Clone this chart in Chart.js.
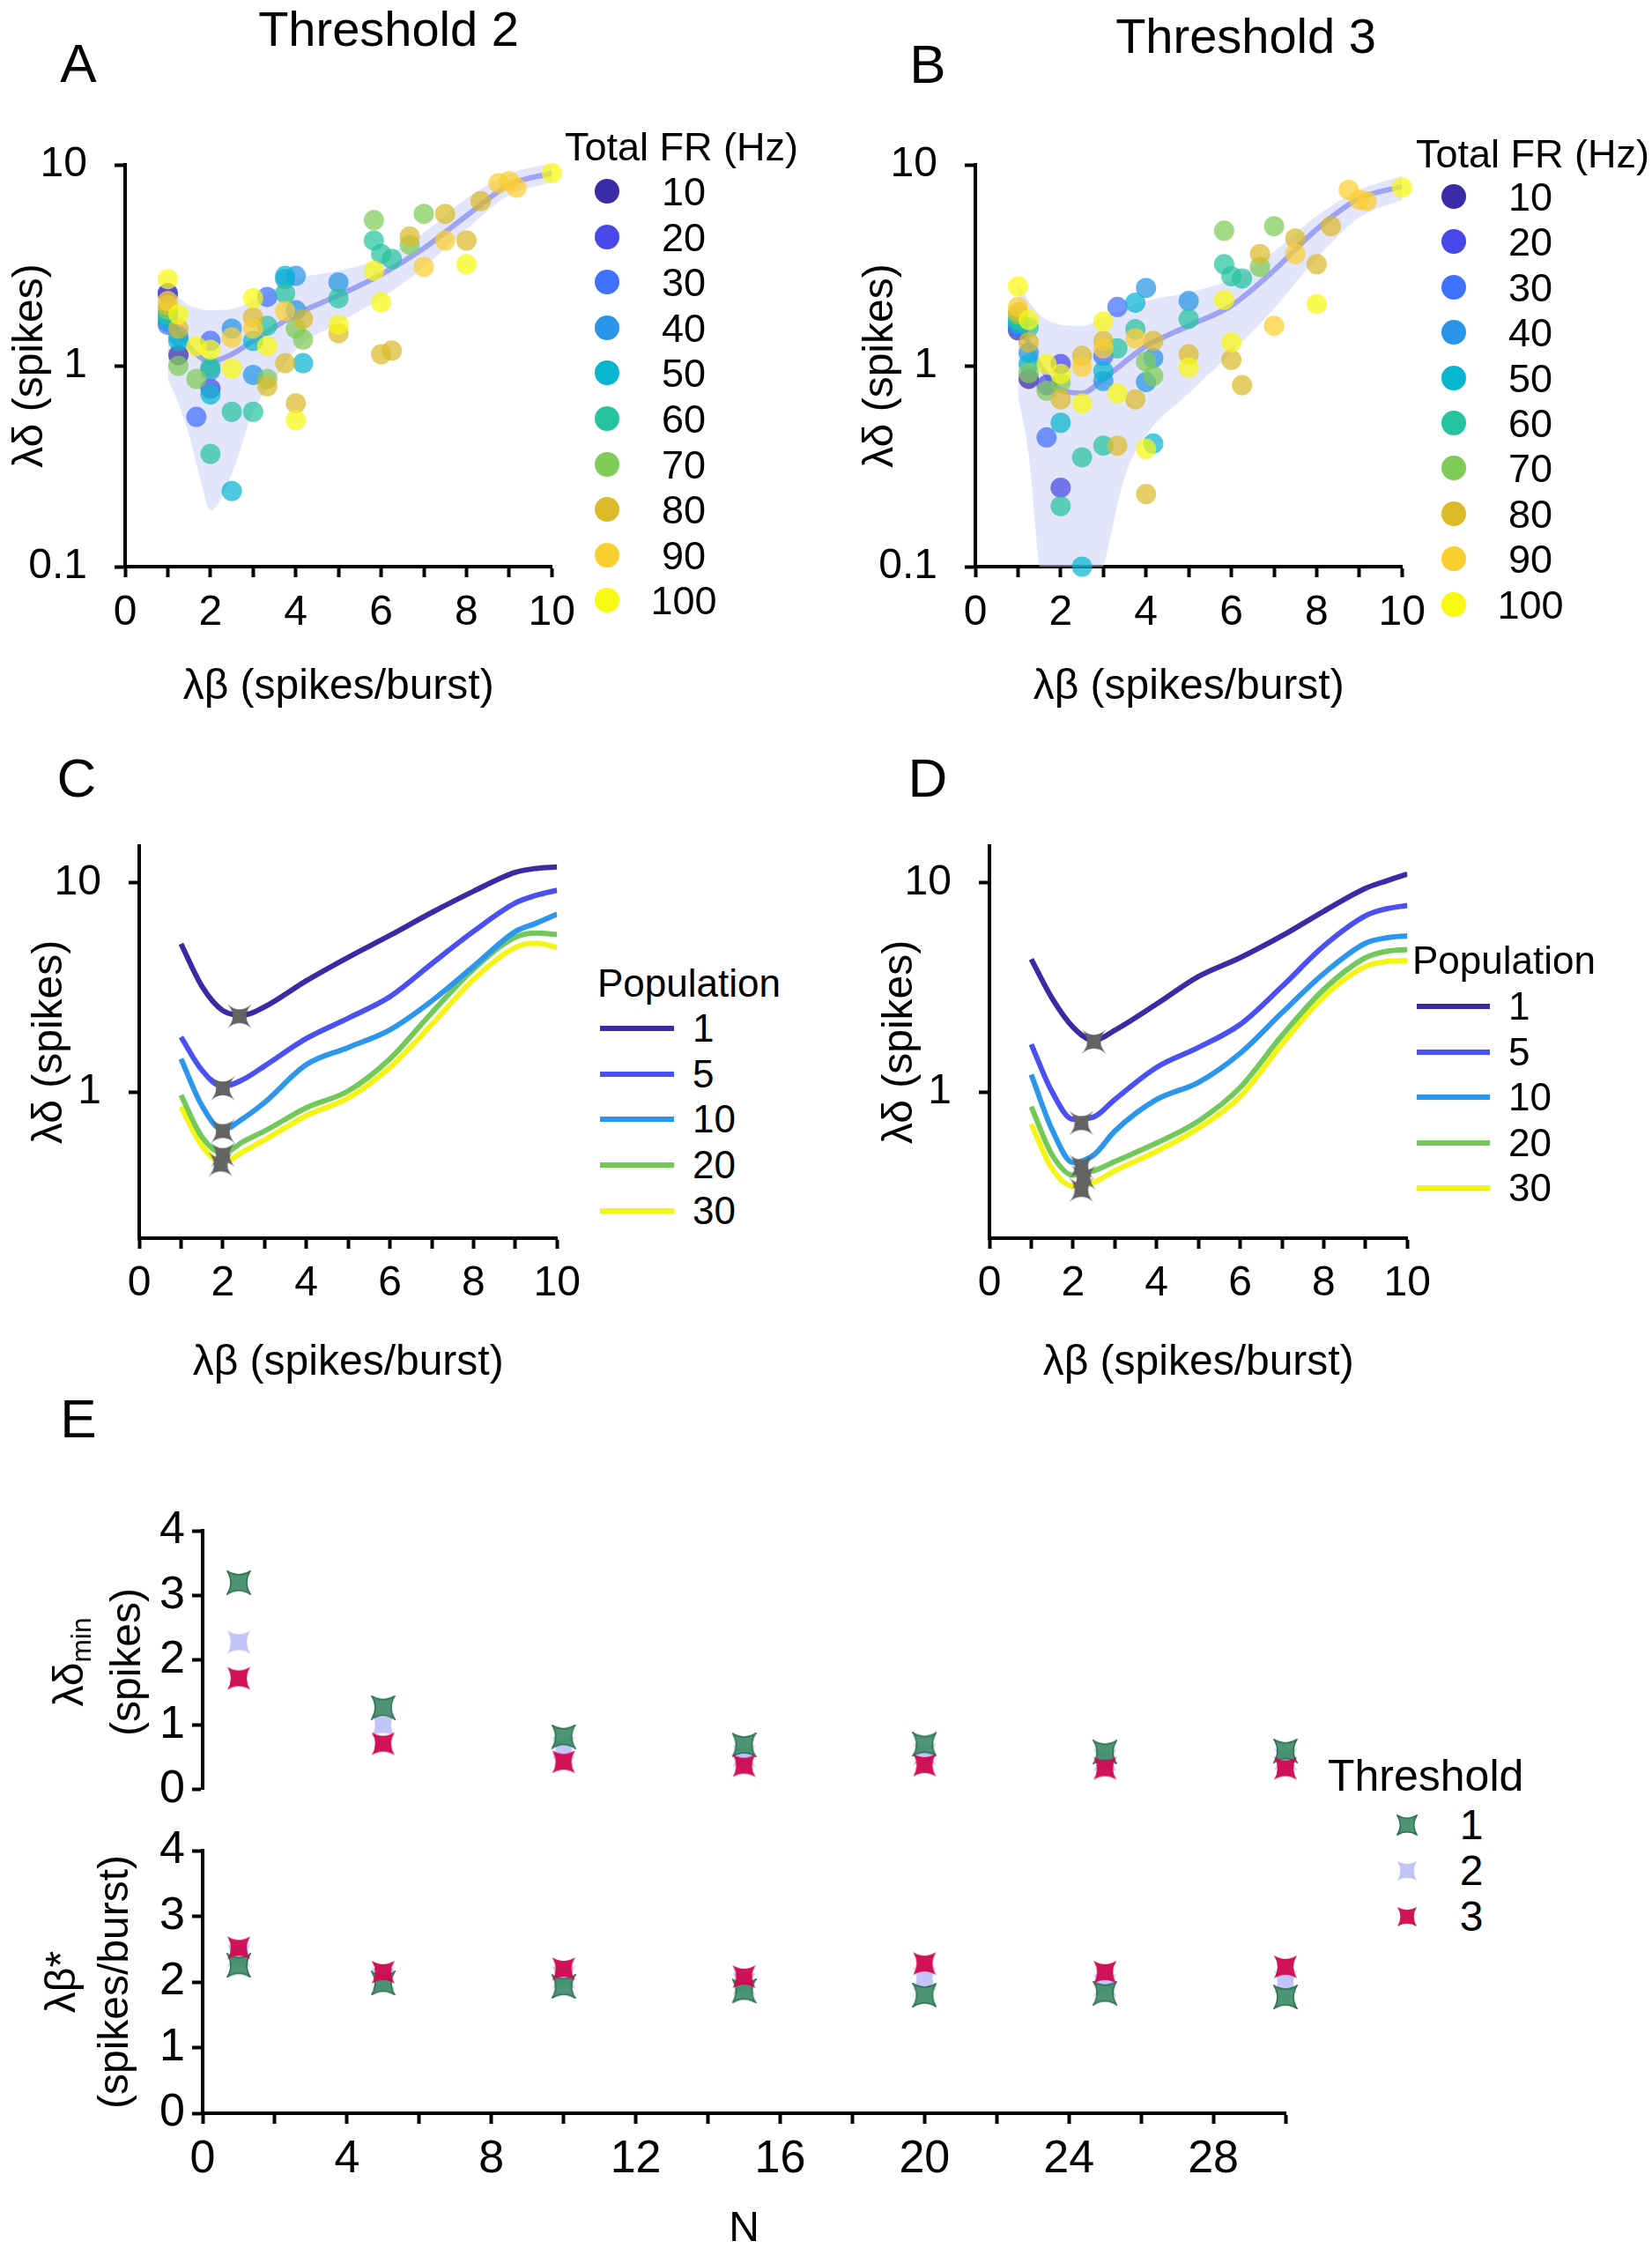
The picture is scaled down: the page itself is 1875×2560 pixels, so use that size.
<!DOCTYPE html>
<html>
<head>
<meta charset="utf-8">
<script src="https://cdn.jsdelivr.net/npm/chart.js@4.4.1/dist/chart.umd.min.js"></script>
<style>
  body { margin: 0; background: #fff; width: 1875px; height: 2560px; position: relative; overflow: hidden;
         font-family: 'Liberation Sans', Arial, Helvetica, sans-serif; color: #000; }
  canvas { position: absolute; }
  .t { position: absolute; white-space: nowrap; line-height: 1; }
  .t sub { font-size: 0.66em; vertical-align: -0.28em; line-height: 0; }
</style>
</head>
<body>
<canvas id="cA"></canvas>
<canvas id="cB"></canvas>
<canvas id="cC"></canvas>
<canvas id="cD"></canvas>
<canvas id="cE1"></canvas>
<canvas id="cE2"></canvas>
<script>
// ---------- data ----------
// total firing rate groups (panels A, B)
const frLevels = ['10', '20', '30', '40', '50', '60', '70', '80', '90', '100'];
const frColors = ['#3b2ba8', '#4848e8', '#4070ff', '#2895e8', '#08b5d0', '#25c4a0', '#80cc58', '#dbbb2a', '#fccf30', '#f8f810'];

// panel A (threshold 2): [lambda beta, lambda delta] per group
const a10 = [[1, 2.28], [1.25, 1.13]];
const a20 = [[1, 2.3], [2, 0.77]];
const a30 = [[1, 1.6], [1.67, 0.556], [2, 1.33], [3.33, 2.2]];
const a40 = [[1, 1.65], [1.25, 1.4], [2, 0.95], [2.5, 1.53], [3, 0.9], [3.75, 2.7], [4, 2.8], [4, 1.89], [5, 2.6]];
const a50 = [[1, 1.75], [1.25, 1.33], [2, 0.72], [2.5, 0.238], [3, 1.33], [3.75, 2.8], [4.17, 1.03]];
const a60 = [[1, 1.8], [2, 0.98], [2, 0.364], [2.5, 0.59], [3, 0.59], [3.33, 1.58], [3.75, 2.29], [5, 2.17], [5.83, 4.2], [6, 3.6], [6.25, 3.4]];
const a70 = [[1, 1.9], [1.25, 1.0], [1.67, 0.86], [3.33, 0.86], [4, 1.53], [4.17, 1.35], [5.83, 5.3], [6.67, 4.0], [7, 5.7]];
const a80 = [[1, 2.0], [1.25, 1.53], [3, 1.74], [3.33, 0.79], [3.75, 1.03], [4.17, 1.71], [4, 0.65], [5, 1.45], [6, 1.14], [6.25, 1.19], [6.67, 4.4], [7.5, 5.7], [8, 4.2], [8.33, 6.6]];
const a90 = [[1, 2.1], [2.5, 1.38], [3, 1.53], [3.75, 1.87], [7, 3.1], [7.5, 4.2], [8.75, 8.1], [9, 8.3], [9.17, 7.7]];
const a100 = [[1, 2.7], [1.25, 1.8], [1.67, 1.25], [2, 1.2], [2.5, 0.97], [3, 2.17], [3.33, 1.25], [4, 0.535], [5, 1.6], [5.83, 2.97], [6, 2.07], [8, 3.2], [10, 9.1]];

// panel B (threshold 3)
const b10 = [[1, 1.5], [1.25, 0.86]];
const b20 = [[1.67, 0.8], [2, 1.02], [2, 0.247]];
const b30 = [[1, 1.55], [1.67, 0.44], [3, 1.12], [3.33, 1.96]];
const b40 = [[1, 1.6], [1.25, 1.16], [3, 0.84], [4, 2.44], [4.17, 1.09], [4, 0.83], [5, 2.1]];
const b50 = [[1, 1.65], [1.25, 1.02], [2, 0.52], [2.5, 0.1], [3, 0.94], [3.75, 2.06], [4.17, 0.41]];
const b60 = [[1, 1.7], [1.25, 1.55], [2, 0.2], [2.5, 0.35], [3, 0.4], [3.33, 1.22], [3.75, 1.52], [5, 1.71], [5.83, 3.2], [6, 2.79], [6.25, 2.72]];
const b70 = [[1, 1.8], [1.25, 0.92], [1.67, 0.75], [2, 0.82], [4, 1.05], [4.17, 0.89], [5.83, 4.7], [6.67, 3.1], [7, 4.95]];
const b80 = [[1, 1.85], [1.25, 1.31], [2, 0.68], [2.5, 1.12], [3, 1.33], [3.33, 0.4], [3.75, 0.68], [4.17, 1.33], [4, 0.23], [5, 1.14], [6, 1.07], [6.25, 0.8], [6.67, 3.6], [7.5, 4.3], [8, 3.2], [8.33, 4.95]];
const b90 = [[1, 1.96], [2.5, 0.99], [3, 1.22], [3.75, 1.37], [7, 1.58], [7.5, 3.6], [8.75, 7.5], [9, 6.7], [9.17, 6.6]];
const b100 = [[1, 2.48], [1.25, 1.69], [1.67, 1.02], [2, 0.91], [2.5, 0.65], [3, 1.66], [3.33, 0.73], [4, 0.386], [5, 0.98], [5.83, 2.13], [6, 1.31], [8, 2.03], [10, 7.7]];

// fitted curve and confidence band
const fitX = [1, 1.5, 2, 2.5, 3, 4, 5, 6, 7, 8, 9, 10];
const aFit = [1.8, 1.25, 1.05, 1.14, 1.33, 1.8, 2.24, 2.84, 3.84, 5.57, 7.94, 9.1];
const bFit = [1.66, 1.02, 0.76, 0.73, 0.86, 1.25, 1.58, 1.99, 2.98, 4.78, 6.8, 7.8];
const bandX = [1, 1.25, 1.5, 1.75, 2, 2.5, 3, 3.5, 4, 5, 6, 7, 8, 9, 10];
const aUpper = [2.6, 2.2, 2.0, 1.92, 1.89, 1.92, 2.1, 2.4, 2.7, 2.97, 3.42, 4.6, 6.8, 9.0, 10.2];
const aLower = [0.86, 0.65, 0.45, 0.28, 0.19, 0.29, 0.59, 0.85, 1.2, 1.63, 2.17, 3.09, 4.78, 7.05, 8.2];
const bUpper = [2.6, 2.1, 1.8, 1.66, 1.6, 1.58, 1.74, 1.92, 2.1, 2.32, 2.7, 3.7, 5.57, 7.5, 8.8];
const bLower = [0.7, 0.36, 0.1, 0.06, 0.05, 0.05, 0.1, 0.28, 0.45, 0.73, 1.16, 1.93, 3.42, 5.47, 6.7];

// panels C, D: population curves
const popLevels = ['1', '5', '10', '20', '30'];
const popColors = ['#3c2aa5', '#4a50f2', '#2c95ec', '#72c95a', '#f5f515'];
const curveX = [1, 1.5, 2, 2.5, 3, 4, 5, 6, 7, 8, 9, 9.5, 10];
const c1 = [5.1, 3.2, 2.45, 2.33, 2.55, 3.4, 4.4, 5.6, 7.2, 9.1, 11.2, 11.7, 11.9];
const c5 = [1.83, 1.27, 1.06, 1.15, 1.33, 1.8, 2.25, 2.85, 4.1, 5.85, 8.0, 8.7, 9.2];
const c10 = [1.44, 0.86, 0.66, 0.75, 0.89, 1.35, 1.63, 1.98, 2.72, 3.98, 5.84, 6.4, 7.07];
const c20 = [0.965, 0.61, 0.51, 0.58, 0.65, 0.84, 1.01, 1.44, 2.39, 3.86, 5.48, 5.75, 5.65];
const c30 = [0.85, 0.553, 0.46, 0.52, 0.59, 0.77, 0.935, 1.31, 2.1, 3.45, 4.9, 5.14, 4.9];
const cMinX = [2.4, 2.0, 2.0, 2.0, 1.95];
const cMinY = [2.3, 1.04, 0.65, 0.5, 0.45];
const d1 = [4.31, 2.8, 2.04, 1.76, 1.97, 2.63, 3.56, 4.38, 5.57, 7.3, 9.4, 10.2, 11.0];
const d5 = [1.69, 1.0, 0.74, 0.76, 0.92, 1.31, 1.63, 2.1, 3.19, 4.98, 6.95, 7.5, 7.78];
const d10 = [1.21, 0.66, 0.46, 0.5, 0.65, 0.92, 1.11, 1.53, 2.39, 3.68, 5.14, 5.45, 5.57];
const d20 = [0.85, 0.5, 0.4, 0.42, 0.465, 0.57, 0.725, 1.05, 1.86, 3.09, 4.38, 4.7, 4.79];
const d30 = [0.7, 0.43, 0.355, 0.37, 0.42, 0.52, 0.67, 0.95, 1.69, 2.85, 3.98, 4.2, 4.24];
const dMinX = [2.5, 2.2, 2.2, 2.25, 2.2];
const dMinY = [1.74, 0.71, 0.44, 0.39, 0.34];

// panel E: minimum lambda delta and optimal lambda beta versus population size
const nPop = [1, 5, 10, 15, 20, 25, 30];
const thrLevels = ['1', '2', '3'];
const dMin1 = [3.2, 1.27, 0.82, 0.69, 0.7, 0.58, 0.6];
const dMin2 = [2.28, 1.0, 0.65, 0.52, 0.55, 0.46, 0.47];
const dMin3 = [1.72, 0.71, 0.43, 0.37, 0.38, 0.33, 0.33];
const bOpt1 = [2.25, 1.98, 1.93, 1.86, 1.8, 1.83, 1.77];
const bOpt2 = [2.4, 2.05, 2.07, 1.97, 2.05, 1.95, 2.0];
const bOpt3 = [2.52, 2.15, 2.2, 2.08, 2.28, 2.15, 2.23];

// ---------- helpers ----------
const FONT = "'Liberation Sans', Arial, Helvetica, sans-serif";
Chart.defaults.font.family = FONT;
Chart.defaults.color = '#000';

const pairs = arr => arr.map(([x, y]) => ({ x, y }));
const zipXY = (xs, ys) => xs.map((x, i) => ({ x, y: ys[i] }));
function rgba(hex, a) {
  const n = parseInt(hex.slice(1), 16);
  return `rgba(${n >> 16},${(n >> 8) & 255},${n & 255},${a})`;
}

// four-pointed concave star used as marker
function starCanvas(size, fill, stroke, pinch) {
  const c = document.createElement('canvas');
  c.width = c.height = size;
  const g = c.getContext('2d');
  const m = size / 2, s = size / 2 - 1, k = s * pinch;
  g.beginPath();
  g.moveTo(m - s, m - s);
  g.quadraticCurveTo(m, m - k, m + s, m - s);
  g.quadraticCurveTo(m + k, m, m + s, m + s);
  g.quadraticCurveTo(m, m + k, m - s, m + s);
  g.quadraticCurveTo(m - k, m, m - s, m - s);
  g.closePath();
  g.fillStyle = fill;
  g.fill();
  if (stroke) { g.strokeStyle = stroke; g.lineWidth = 1.5; g.stroke(); }
  return c;
}
const thrFill = ['rgba(62,140,104,0.92)', 'rgba(192,194,248,0.95)', 'rgba(208,8,80,0.96)'];
const thrStroke = ['#2d7050', null, null];
const thrStars = thrFill.map((f, i) => starCanvas(28, f, thrStroke[i], 0.4));
const grayStar = starCanvas(30, '#636363', null, 0.1);

const GRID = { drawOnChartArea: false, drawTicks: true, tickLength: 12, tickWidth: 4, tickColor: '#000' };
const BORDER = { display: true, color: '#000', width: 4 };

function linearAxis(min, max, step, every, size, pad, title, titlePad) {
  return {
    type: 'linear', min, max,
    grid: { ...GRID }, border: { ...BORDER },
    ticks: { stepSize: step, autoSkip: false, maxRotation: 0, padding: pad, color: '#000', font: { size },
             callback: v => (Math.abs(v % every) < 1e-9 ? String(v) : '') },
    title: title ? { display: true, text: title, color: '#000', font: { size: 48, lineHeight: 1.25 }, padding: titlePad }
                 : { display: false }
  };
}
function logAxis(min, max, values, title, titlePad) {
  return {
    type: 'logarithmic', min, max,
    grid: { ...GRID }, border: { ...BORDER },
    afterBuildTicks: s => { s.ticks = values.map(v => ({ value: v })); },
    ticks: { autoSkip: false, padding: 31, color: '#000', font: { size: 48 }, callback: v => String(v) },
    title: { display: true, text: title, color: '#000', font: { size: 48 }, padding: titlePad }
  };
}

// rect = canvas [left, top, width, height]; area = plot area [left, top, right, bottom]
function build(id, rect, area, datasets, xAxis, yAxis) {
  const [cl, ct, cw, ch] = rect, [L, T, R, B] = area;
  const cv = document.getElementById(id);
  cv.width = cw; cv.height = ch;
  cv.style.left = cl + 'px'; cv.style.top = ct + 'px';
  const below = ct + ch - B;
  const xOn = xAxis.display !== false;
  yAxis.afterFit = s => { s.width = L - cl; };
  if (xOn) xAxis.afterFit = s => { s.height = below; };
  return new Chart(cv, {
    type: 'scatter',
    data: { datasets },
    options: {
      responsive: false, animation: false, devicePixelRatio: 1, events: [],
      layout: { padding: { left: 0, top: T - ct, right: cl + cw - R, bottom: xOn ? 0 : below } },
      plugins: { legend: { display: false }, tooltip: { enabled: false } },
      scales: { x: xAxis, y: yAxis }
    }
  });
}

function put(html, x, y, size, align) {
  const d = document.createElement('div');
  d.className = 't';
  d.innerHTML = html;
  d.style.left = x + 'px';
  d.style.top = y + 'px';
  d.style.fontSize = size + 'px';
  d.style.transform = align === 'left' ? 'translateY(-50%)' : 'translate(-50%,-50%)';
  document.body.appendChild(d);
  return d;
}
function shape(x, y, w, h, css) {
  const d = document.createElement('div');
  d.style.cssText = `position:absolute;left:${x}px;top:${y}px;width:${w}px;height:${h}px;` + css;
  document.body.appendChild(d);
}

// ---------- panels A, B ----------
function frPanel(id, rect, area, groups, fit, upper, lower) {
  const ds = groups.map((g, i) => ({
    data: pairs(g), backgroundColor: rgba(frColors[i], 0.72), borderWidth: 0,
    pointRadius: 11.5, clip: false, order: 10 - i
  }));
  ds.push({ type: 'line', data: zipXY(fitX, fit), borderColor: '#9ea3f3', borderWidth: 6, pointRadius: 0,
            cubicInterpolationMode: 'monotone', fill: false, order: 11 });
  ds.push({ type: 'line', data: zipXY(bandX, upper), borderWidth: 0, borderColor: 'rgba(0,0,0,0)', pointRadius: 0,
            cubicInterpolationMode: 'monotone', fill: '+1', backgroundColor: 'rgba(200,205,245,0.5)', order: 12 });
  ds.push({ type: 'line', data: zipXY(bandX, lower), borderWidth: 0, borderColor: 'rgba(0,0,0,0)', pointRadius: 0,
            cubicInterpolationMode: 'monotone', fill: false, order: 13 });
  build(id, rect, area, ds,
        linearAxis(0, 10, 1, 2, 48, 12, 'λβ (spikes/burst)', { top: 0, bottom: 20 }),
        logAxis(0.1, 10, [0.1, 1, 10], 'λδ (spikes)', { top: 6, bottom: 0 }));
}
frPanel('cA', [0, 100, 665, 730], [142, 187, 632, 643],
        [a10, a20, a30, a40, a50, a60, a70, a80, a90, a100], aFit, aUpper, aLower);
frPanel('cB', [965, 100, 665, 730], [1107, 187, 1597, 643],
        [b10, b20, b30, b40, b50, b60, b70, b80, b90, b100], bFit, bUpper, bLower);

// ---------- panels C, D ----------
function popPanel(id, rect, area, curves, minX, minY) {
  const ds = curves.map((c, i) => ({
    type: 'line', data: zipXY(curveX, c), borderColor: popColors[i], borderWidth: 6, pointRadius: 0,
    cubicInterpolationMode: 'monotone', fill: false, order: 1 + i
  }));
  ds.push({ data: zipXY(minX, minY), pointStyle: grayStar, pointRadius: 15, clip: false, order: 0 });
  build(id, rect, area, ds,
        linearAxis(0, 10, 1, 2, 48, 11, 'λβ (spikes/burst)', { top: 0, bottom: 23 }),
        logAxis(0.2, 15, [1, 10], 'λδ (spikes)', { top: 28, bottom: 0 }));
}
popPanel('cC', [0, 900, 670, 700], [158, 955, 637, 1405], [c1, c5, c10, c20, c30], cMinX, cMinY);
popPanel('cD', [965, 900, 670, 700], [1123, 955, 1602, 1405], [d1, d5, d10, d20, d30], dMinX, dMinY);

// ---------- panel E ----------
function thrSets(series) {
  return series.map((s, i) => ({
    data: zipXY(nPop, s), pointStyle: thrStars[i], pointRadius: 14, clip: false, order: [2, 3, 1][i]
  }));
}
const eTopX = linearAxis(0, 30, 2, 4, 52, 9, null);
eTopX.display = false;
const eTopY = linearAxis(0, 4, 1, 1, 52, 8, null);
build('cE1', [0, 1690, 1500, 380], [230, 1737, 1459, 2035], thrSets([dMin1, dMin2, dMin3]), eTopX, eTopY);
build('cE2', [0, 2050, 1500, 510], [230, 2100, 1459, 2398], thrSets([bOpt1, bOpt2, bOpt3]),
      linearAxis(0, 30, 2, 4, 52, 9, 'N', { top: 0, bottom: 0 }),
      linearAxis(0, 4, 1, 1, 52, 8, ['λβ*', '(spikes/burst)'], { top: 42, bottom: 0 }));

// ---------- text, legends ----------
put('A', 89, 72, 62); put('B', 1053, 73, 62); put('C', 87, 883, 62); put('D', 1053, 883, 62); put('E', 89, 1610, 62);
put('Threshold 2', 441, 33, 56); put('Threshold 3', 1414, 41, 56);

const eTitle = put('λδ<sub>min</sub><br>(spikes)', 110, 1886, 48);
eTitle.style.lineHeight = '65px';
eTitle.style.textAlign = 'center';
eTitle.style.transform = 'translate(-50%,-50%) rotate(-90deg)';

function frLegend(titleX, titleY, dotX, firstY, step, labelX) {
  put('Total FR (Hz)', titleX, titleY, 45, 'left');
  frLevels.forEach((lv, i) => {
    const y = firstY + i * step;
    shape(dotX - 14, y - 14, 28, 28, `border-radius:50%;background:${frColors[i]};`);
    put(lv, labelX, y, 45);
  });
}
frLegend(641, 166, 689, 217, 51.6, 776);
frLegend(1607, 174, 1650, 223, 51.4, 1737);

function popLegend(titleX, titleY, lineX, lineW, firstY, step, labelX) {
  put('Population', titleX, titleY, 44, 'left');
  popLevels.forEach((lv, i) => {
    const y = firstY + i * step;
    shape(lineX, y - 3, lineW, 6, `background:${popColors[i]};`);
    put(lv, labelX, y, 44, 'left');
  });
}
popLegend(678, 1116, 681, 84, 1167, 51.7, 786);
popLegend(1603, 1090, 1608, 83, 1142, 51.5, 1712);

put('Threshold', 1507, 2015, 50, 'left');
thrLevels.forEach((lv, i) => {
  const y = 2071 + i * 52;
  const img = document.createElement('img');
  img.src = starCanvas(24, thrFill[i], thrStroke[i], 0.4).toDataURL();
  img.style.cssText = `position:absolute;left:${1597 - 12}px;top:${y - 12}px;width:24px;height:24px;`;
  document.body.appendChild(img);
  put(lv, 1670, y, 48);
});
</script>
</body>
</html>
